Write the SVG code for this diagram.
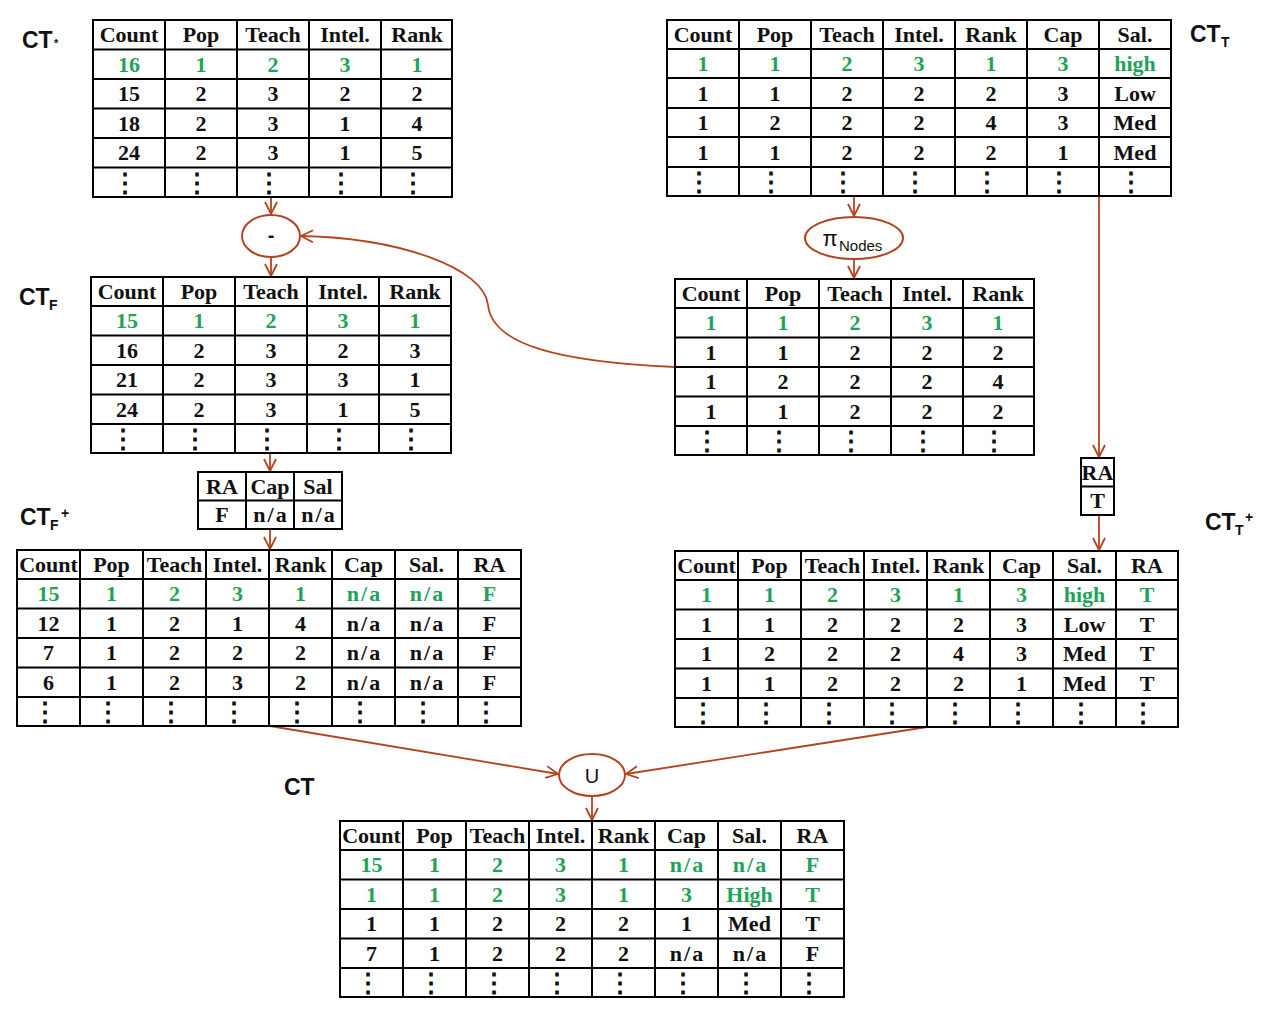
<svg xmlns="http://www.w3.org/2000/svg" width="1269" height="1021" viewBox="0 0 1269 1021">
<defs>
<style>
.b{fill:none;stroke:#000;stroke-width:2}
.t{font-family:"Liberation Serif",serif;font-weight:bold;font-size:22px;text-anchor:middle;fill:#111}
.g{fill:#1fa35a}
.na{letter-spacing:2px}
.d{font-family:"Liberation Serif","DejaVu Serif",serif;font-weight:bold;font-size:26px;text-anchor:middle;fill:#111}
.lab{font-family:"Liberation Sans",Arial,sans-serif;font-weight:bold;font-size:23px;fill:#111}
.sub{font-family:"Liberation Sans",Arial,sans-serif;font-weight:bold;font-size:14px;fill:#111}
.op{fill:#fff;stroke:#b4441f;stroke-width:2}
.ot{font-family:"Liberation Sans",Arial,sans-serif;font-size:20px;text-anchor:middle;fill:#111}
.c{fill:none;stroke:#b4441f;stroke-width:1.8}
</style>
<marker id="ar" viewBox="0 0 14 14" markerWidth="14" markerHeight="14" refX="13" refY="7" orient="auto" markerUnits="userSpaceOnUse">
<path d="M1,1 L13,7 L1,13" fill="none" stroke="#b4441f" stroke-width="1.8"/>
</marker>
</defs>
<rect width="1269" height="1021" fill="#fff"/>

<!-- connectors -->
<g id="connectors">
<path class="c" d="M271,197 L271,214" marker-end="url(#ar)"/>
<path class="c" d="M271,257 L271,276" marker-end="url(#ar)"/>
<path class="c" d="M675,367 C560,362 492,345 488,305 C484,268 400,238 301,236" marker-end="url(#ar)"/>
<path class="c" d="M854,196 L854,216" marker-end="url(#ar)"/>
<path class="c" d="M854,259 L854,278" marker-end="url(#ar)"/>
<path class="c" d="M1099,196 L1099,457" marker-end="url(#ar)"/>
<path class="c" d="M1099,515 L1099,550" marker-end="url(#ar)"/>
<path class="c" d="M270,453 L270,471" marker-end="url(#ar)"/>
<path class="c" d="M270,529 L270,549" marker-end="url(#ar)"/>
<path class="c" d="M270,726 L558,774" marker-end="url(#ar)"/>
<path class="c" d="M927,727 L626,774" marker-end="url(#ar)"/>
<path class="c" d="M592,796 L592,820" marker-end="url(#ar)"/>
</g>

<!-- operators -->
<g id="op-minus">
<ellipse class="op" cx="271" cy="236" rx="29" ry="21"/>
<text class="ot" x="271" y="242" style="font-weight:bold">-</text>
</g>
<g id="op-proj">
<ellipse class="op" cx="854" cy="238" rx="49" ry="21"/>
<text class="ot" x="830" y="246" style="font-size:22px">π</text>
<text class="sub" x="839" y="251" style="font-weight:normal;font-size:15px">Nodes</text>
</g>
<g id="op-union">
<ellipse class="op" cx="592" cy="775" rx="33" ry="21"/>
<text class="ot" x="592" y="783">U</text>
</g>

<!-- labels -->
<g id="labels">
<text class="lab" x="22" y="48">CT</text><text class="sub" x="54" y="47" style="font-size:11px">*</text>
<text class="lab" x="1190" y="42">CT</text><text class="sub" x="1221" y="47">T</text>
<text class="lab" x="19" y="305">CT</text><text class="sub" x="49" y="310">F</text>
<text class="lab" x="20" y="525">CT</text><text class="sub" x="50" y="530">F</text><text class="sub" x="61" y="518">+</text>
<text class="lab" x="1205" y="530">CT</text><text class="sub" x="1235" y="535">T</text><text class="sub" x="1245" y="522">+</text>
<text class="lab" x="284" y="795">CT</text>
</g>

<!-- CT* table -->
<g id="ct-star">
<rect class="b" x="93" y="20" width="359" height="177"/>
<path class="b" d="M165,20V197M237,20V197M309,20V197M381,20V197M93,49.5H452M93,79H452M93,108.5H452M93,138H452M93,167.5H452"/>
<text class="t" x="129" y="42">Count</text><text class="t" x="201" y="42">Pop</text><text class="t" x="273" y="42">Teach</text><text class="t" x="345" y="42">Intel.</text><text class="t" x="417" y="42">Rank</text>
<text class="t g" x="129" y="72">16</text><text class="t g" x="201" y="72">1</text><text class="t g" x="273" y="72">2</text><text class="t g" x="345" y="72">3</text><text class="t g" x="417" y="72">1</text>
<text class="t" x="129" y="101">15</text><text class="t" x="201" y="101">2</text><text class="t" x="273" y="101">3</text><text class="t" x="345" y="101">2</text><text class="t" x="417" y="101">2</text>
<text class="t" x="129" y="131">18</text><text class="t" x="201" y="131">2</text><text class="t" x="273" y="131">3</text><text class="t" x="345" y="131">1</text><text class="t" x="417" y="131">4</text>
<text class="t" x="129" y="160">24</text><text class="t" x="201" y="160">2</text><text class="t" x="273" y="160">3</text><text class="t" x="345" y="160">1</text><text class="t" x="417" y="160">5</text>
<text class="d" x="125" y="192">⋮</text><text class="d" x="197" y="192">⋮</text><text class="d" x="269" y="192">⋮</text><text class="d" x="341" y="192">⋮</text><text class="d" x="413" y="192">⋮</text>
</g>

<!-- CT_T table -->
<g id="ct-t">
<rect class="b" x="667" y="20" width="504" height="176"/>
<path class="b" d="M739,20V196M811,20V196M883,20V196M955,20V196M1027,20V196M1099,20V196M667,49H1171M667,78H1171M667,108H1171M667,137H1171M667,167H1171"/>
<text class="t" x="703" y="42">Count</text><text class="t" x="775" y="42">Pop</text><text class="t" x="847" y="42">Teach</text><text class="t" x="919" y="42">Intel.</text><text class="t" x="991" y="42">Rank</text><text class="t" x="1063" y="42">Cap</text><text class="t" x="1135" y="42">Sal.</text>
<text class="t g" x="703" y="71">1</text><text class="t g" x="775" y="71">1</text><text class="t g" x="847" y="71">2</text><text class="t g" x="919" y="71">3</text><text class="t g" x="991" y="71">1</text><text class="t g" x="1063" y="71">3</text><text class="t g" x="1135" y="71">high</text>
<text class="t" x="703" y="101">1</text><text class="t" x="775" y="101">1</text><text class="t" x="847" y="101">2</text><text class="t" x="919" y="101">2</text><text class="t" x="991" y="101">2</text><text class="t" x="1063" y="101">3</text><text class="t" x="1135" y="101">Low</text>
<text class="t" x="703" y="130">1</text><text class="t" x="775" y="130">2</text><text class="t" x="847" y="130">2</text><text class="t" x="919" y="130">2</text><text class="t" x="991" y="130">4</text><text class="t" x="1063" y="130">3</text><text class="t" x="1135" y="130">Med</text>
<text class="t" x="703" y="160">1</text><text class="t" x="775" y="160">1</text><text class="t" x="847" y="160">2</text><text class="t" x="919" y="160">2</text><text class="t" x="991" y="160">2</text><text class="t" x="1063" y="160">1</text><text class="t" x="1135" y="160">Med</text>
<text class="d" x="699" y="191">⋮</text><text class="d" x="771" y="191">⋮</text><text class="d" x="843" y="191">⋮</text><text class="d" x="915" y="191">⋮</text><text class="d" x="987" y="191">⋮</text><text class="d" x="1059" y="191">⋮</text><text class="d" x="1131" y="191">⋮</text>
</g>

<!-- CT_F table -->
<g id="ct-f">
<rect class="b" x="91" y="277" width="360" height="176"/>
<path class="b" d="M163,277V453M235,277V453M307,277V453M379,277V453M91,306H451M91,335.5H451M91,365H451M91,394.5H451M91,424H451"/>
<text class="t" x="127" y="299">Count</text><text class="t" x="199" y="299">Pop</text><text class="t" x="271" y="299">Teach</text><text class="t" x="343" y="299">Intel.</text><text class="t" x="415" y="299">Rank</text>
<text class="t g" x="127" y="328">15</text><text class="t g" x="199" y="328">1</text><text class="t g" x="271" y="328">2</text><text class="t g" x="343" y="328">3</text><text class="t g" x="415" y="328">1</text>
<text class="t" x="127" y="358">16</text><text class="t" x="199" y="358">2</text><text class="t" x="271" y="358">3</text><text class="t" x="343" y="358">2</text><text class="t" x="415" y="358">3</text>
<text class="t" x="127" y="387">21</text><text class="t" x="199" y="387">2</text><text class="t" x="271" y="387">3</text><text class="t" x="343" y="387">3</text><text class="t" x="415" y="387">1</text>
<text class="t" x="127" y="417">24</text><text class="t" x="199" y="417">2</text><text class="t" x="271" y="417">3</text><text class="t" x="343" y="417">1</text><text class="t" x="415" y="417">5</text>
<text class="d" x="123" y="448">⋮</text><text class="d" x="195" y="448">⋮</text><text class="d" x="267" y="448">⋮</text><text class="d" x="339" y="448">⋮</text><text class="d" x="411" y="448">⋮</text>
</g>

<!-- Projection result table -->
<g id="ct-nodes">
<rect class="b" x="675" y="279" width="359" height="176"/>
<path class="b" d="M747,279V455M819,279V455M891,279V455M963,279V455M675,308H1034M675,337.5H1034M675,367H1034M675,396.5H1034M675,426H1034"/>
<text class="t" x="711" y="301">Count</text><text class="t" x="783" y="301">Pop</text><text class="t" x="855" y="301">Teach</text><text class="t" x="927" y="301">Intel.</text><text class="t" x="998" y="301">Rank</text>
<text class="t g" x="711" y="330">1</text><text class="t g" x="783" y="330">1</text><text class="t g" x="855" y="330">2</text><text class="t g" x="927" y="330">3</text><text class="t g" x="998" y="330">1</text>
<text class="t" x="711" y="360">1</text><text class="t" x="783" y="360">1</text><text class="t" x="855" y="360">2</text><text class="t" x="927" y="360">2</text><text class="t" x="998" y="360">2</text>
<text class="t" x="711" y="389">1</text><text class="t" x="783" y="389">2</text><text class="t" x="855" y="389">2</text><text class="t" x="927" y="389">2</text><text class="t" x="998" y="389">4</text>
<text class="t" x="711" y="419">1</text><text class="t" x="783" y="419">1</text><text class="t" x="855" y="419">2</text><text class="t" x="927" y="419">2</text><text class="t" x="998" y="419">2</text>
<text class="d" x="707" y="450">⋮</text><text class="d" x="779" y="450">⋮</text><text class="d" x="851" y="450">⋮</text><text class="d" x="923" y="450">⋮</text><text class="d" x="994" y="450">⋮</text>
</g>

<!-- RA F small table -->
<g id="ra-f">
<rect class="b" x="198" y="472" width="144" height="57"/>
<path class="b" d="M246,472V529M294,472V529M198,500.5H342"/>
<text class="t" x="222" y="494">RA</text><text class="t" x="270" y="494">Cap</text><text class="t" x="318" y="494">Sal</text>
<text class="t" x="222" y="522">F</text><text class="t na" x="271" y="522">n/a</text><text class="t na" x="319" y="522">n/a</text>
</g>

<!-- RA T small table -->
<g id="ra-t">
<rect class="b" x="1081" y="458" width="33" height="57"/>
<path class="b" d="M1081,486.5H1114"/>
<text class="t" x="1097.5" y="480">RA</text>
<text class="t" x="1097.5" y="508">T</text>
</g>

<!-- CT_F+ table -->
<g id="ct-f-plus">
<rect class="b" x="17" y="550" width="504" height="176"/>
<path class="b" d="M80,550V726M143,550V726M206,550V726M269,550V726M332,550V726M395,550V726M458,550V726M17,579H521M17,608.5H521M17,638H521M17,667.5H521M17,697H521"/>
<text class="t" x="48.5" y="572">Count</text><text class="t" x="111.5" y="572">Pop</text><text class="t" x="174.5" y="572">Teach</text><text class="t" x="237.5" y="572">Intel.</text><text class="t" x="300.5" y="572">Rank</text><text class="t" x="363.5" y="572">Cap</text><text class="t" x="426.5" y="572">Sal.</text><text class="t" x="489.5" y="572">RA</text>
<text class="t g" x="48.5" y="601">15</text><text class="t g" x="111.5" y="601">1</text><text class="t g" x="174.5" y="601">2</text><text class="t g" x="237.5" y="601">3</text><text class="t g" x="300.5" y="601">1</text><text class="t g na" x="364.5" y="601">n/a</text><text class="t g na" x="427.5" y="601">n/a</text><text class="t g" x="489.5" y="601">F</text>
<text class="t" x="48.5" y="631">12</text><text class="t" x="111.5" y="631">1</text><text class="t" x="174.5" y="631">2</text><text class="t" x="237.5" y="631">1</text><text class="t" x="300.5" y="631">4</text><text class="t na" x="364.5" y="631">n/a</text><text class="t na" x="427.5" y="631">n/a</text><text class="t" x="489.5" y="631">F</text>
<text class="t" x="48.5" y="660">7</text><text class="t" x="111.5" y="660">1</text><text class="t" x="174.5" y="660">2</text><text class="t" x="237.5" y="660">2</text><text class="t" x="300.5" y="660">2</text><text class="t na" x="364.5" y="660">n/a</text><text class="t na" x="427.5" y="660">n/a</text><text class="t" x="489.5" y="660">F</text>
<text class="t" x="48.5" y="690">6</text><text class="t" x="111.5" y="690">1</text><text class="t" x="174.5" y="690">2</text><text class="t" x="237.5" y="690">3</text><text class="t" x="300.5" y="690">2</text><text class="t na" x="364.5" y="690">n/a</text><text class="t na" x="427.5" y="690">n/a</text><text class="t" x="489.5" y="690">F</text>
<text class="d" x="44.5" y="721">⋮</text><text class="d" x="107.5" y="721">⋮</text><text class="d" x="170.5" y="721">⋮</text><text class="d" x="233.5" y="721">⋮</text><text class="d" x="296.5" y="721">⋮</text><text class="d" x="359.5" y="721">⋮</text><text class="d" x="422.5" y="721">⋮</text><text class="d" x="485.5" y="721">⋮</text>
</g>

<!-- CT_T+ table -->
<g id="ct-t-plus">
<rect class="b" x="675" y="551" width="503" height="176"/>
<path class="b" d="M738,551V727M801,551V727M864,551V727M927,551V727M990,551V727M1053,551V727M1116,551V727M675,580H1178M675,609.5H1178M675,639H1178M675,668.5H1178M675,698H1178"/>
<text class="t" x="706.5" y="573">Count</text><text class="t" x="769.5" y="573">Pop</text><text class="t" x="832.5" y="573">Teach</text><text class="t" x="895.5" y="573">Intel.</text><text class="t" x="958.5" y="573">Rank</text><text class="t" x="1021.5" y="573">Cap</text><text class="t" x="1084.5" y="573">Sal.</text><text class="t" x="1147" y="573">RA</text>
<text class="t g" x="706.5" y="602">1</text><text class="t g" x="769.5" y="602">1</text><text class="t g" x="832.5" y="602">2</text><text class="t g" x="895.5" y="602">3</text><text class="t g" x="958.5" y="602">1</text><text class="t g" x="1021.5" y="602">3</text><text class="t g" x="1084.5" y="602">high</text><text class="t g" x="1147" y="602">T</text>
<text class="t" x="706.5" y="632">1</text><text class="t" x="769.5" y="632">1</text><text class="t" x="832.5" y="632">2</text><text class="t" x="895.5" y="632">2</text><text class="t" x="958.5" y="632">2</text><text class="t" x="1021.5" y="632">3</text><text class="t" x="1084.5" y="632">Low</text><text class="t" x="1147" y="632">T</text>
<text class="t" x="706.5" y="661">1</text><text class="t" x="769.5" y="661">2</text><text class="t" x="832.5" y="661">2</text><text class="t" x="895.5" y="661">2</text><text class="t" x="958.5" y="661">4</text><text class="t" x="1021.5" y="661">3</text><text class="t" x="1084.5" y="661">Med</text><text class="t" x="1147" y="661">T</text>
<text class="t" x="706.5" y="691">1</text><text class="t" x="769.5" y="691">1</text><text class="t" x="832.5" y="691">2</text><text class="t" x="895.5" y="691">2</text><text class="t" x="958.5" y="691">2</text><text class="t" x="1021.5" y="691">1</text><text class="t" x="1084.5" y="691">Med</text><text class="t" x="1147" y="691">T</text>
<text class="d" x="702.5" y="722">⋮</text><text class="d" x="765.5" y="722">⋮</text><text class="d" x="828.5" y="722">⋮</text><text class="d" x="891.5" y="722">⋮</text><text class="d" x="954.5" y="722">⋮</text><text class="d" x="1017.5" y="722">⋮</text><text class="d" x="1080.5" y="722">⋮</text><text class="d" x="1143" y="722">⋮</text>
</g>

<!-- CT result table -->
<g id="ct">
<rect class="b" x="340" y="821" width="504" height="176"/>
<path class="b" d="M403,821V997M466,821V997M529,821V997M592,821V997M655,821V997M718,821V997M781,821V997M340,850H844M340,879.5H844M340,909H844M340,938.5H844M340,968H844"/>
<text class="t" x="371.5" y="843">Count</text><text class="t" x="434.5" y="843">Pop</text><text class="t" x="497.5" y="843">Teach</text><text class="t" x="560.5" y="843">Intel.</text><text class="t" x="623.5" y="843">Rank</text><text class="t" x="686.5" y="843">Cap</text><text class="t" x="749.5" y="843">Sal.</text><text class="t" x="812.5" y="843">RA</text>
<text class="t g" x="371.5" y="872">15</text><text class="t g" x="434.5" y="872">1</text><text class="t g" x="497.5" y="872">2</text><text class="t g" x="560.5" y="872">3</text><text class="t g" x="623.5" y="872">1</text><text class="t g na" x="687.5" y="872">n/a</text><text class="t g na" x="750.5" y="872">n/a</text><text class="t g" x="812.5" y="872">F</text>
<text class="t g" x="371.5" y="902">1</text><text class="t g" x="434.5" y="902">1</text><text class="t g" x="497.5" y="902">2</text><text class="t g" x="560.5" y="902">3</text><text class="t g" x="623.5" y="902">1</text><text class="t g" x="686.5" y="902">3</text><text class="t g" x="749.5" y="902">High</text><text class="t g" x="812.5" y="902">T</text>
<text class="t" x="371.5" y="931">1</text><text class="t" x="434.5" y="931">1</text><text class="t" x="497.5" y="931">2</text><text class="t" x="560.5" y="931">2</text><text class="t" x="623.5" y="931">2</text><text class="t" x="686.5" y="931">1</text><text class="t" x="749.5" y="931">Med</text><text class="t" x="812.5" y="931">T</text>
<text class="t" x="371.5" y="961">7</text><text class="t" x="434.5" y="961">1</text><text class="t" x="497.5" y="961">2</text><text class="t" x="560.5" y="961">2</text><text class="t" x="623.5" y="961">2</text><text class="t na" x="687.5" y="961">n/a</text><text class="t na" x="750.5" y="961">n/a</text><text class="t" x="812.5" y="961">F</text>
<text class="d" x="367.5" y="992">⋮</text><text class="d" x="430.5" y="992">⋮</text><text class="d" x="493.5" y="992">⋮</text><text class="d" x="556.5" y="992">⋮</text><text class="d" x="619.5" y="992">⋮</text><text class="d" x="682.5" y="992">⋮</text><text class="d" x="745.5" y="992">⋮</text><text class="d" x="808.5" y="992">⋮</text>
</g>
</svg>
